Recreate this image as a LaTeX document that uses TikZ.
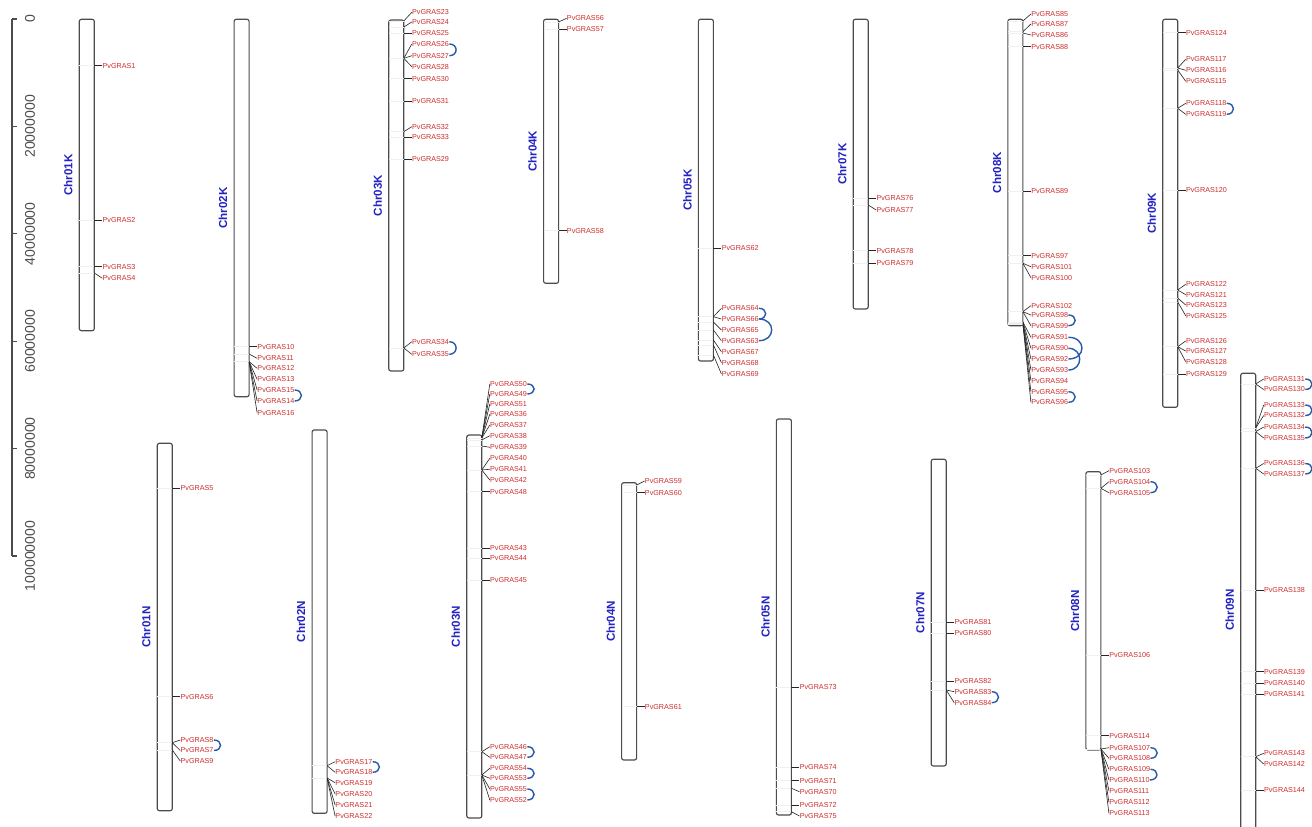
\documentclass[tikz,border=0pt]{standalone}
\usepackage{fontspec}
\setmainfont{Liberation Sans}
\definecolor{gred}{RGB}{205,45,45}
\definecolor{cblue}{RGB}{35,35,195}
\definecolor{lblue}{RGB}{40,90,170}
\tikzset{
  chr/.style={draw=black!70,line width=0.65pt,fill=white,rounded corners=1.2pt},
  inl/.style={draw=black!6,line width=0.3pt},
  gline/.style={draw=black!85,line width=0.35pt},
  glab/.style={font=\fontsize{4.1}{5}\selectfont,text=gred,anchor=west,inner sep=0pt},
  clab/.style={font=\fontsize{6.6}{8}\selectfont\bfseries,text=cblue,rotate=90,inner sep=0pt},
  lnk/.style={draw=lblue,line width=0.8pt},
  axl/.style={font=\fontsize{8}{9}\selectfont,text=black!70,rotate=90,inner sep=0pt},
  axis/.style={draw=black!70,line width=0.6pt}
}
\newcommand\chrom[4]{%
  \draw[chr] (#1,#2) rectangle (#1+15,#3);
  \node[clab] (c#4) at (#1-11,{(#2+#3)/2}) {Chr#4};
}
\newcommand\gn[4]{%
  \coordinate (g#4) at (#1,#2);
  \draw[inl] (#1-15,#2) -- (g#4);
  \node[glab] (p#4) at (#1+8,#3) {PvGRAS#4};
  \draw[gline] (g#4) -- (p#4.west);
}
\newcommand\lk[3]{\draw[lnk] (p#1.east) .. controls +(#3,0) and +(#3,0) .. (p#2.east);}
\begin{document}
\begin{tikzpicture}[x=0.02cm,y=-0.02cm]
\useasboundingbox (0,0) rectangle (1312,827);
\clip (0,0) rectangle (1312,827);
% axis
\coordinate (a0) at (12,19);
\coordinate (a5) at (12,556);
\draw[axis] (a0) -- (a5);
\foreach \k/\t in {0/0,1/20000000,2/40000000,3/60000000,4/80000000,5/100000000}{
  \draw[axis] (12,19+107.4*\k) -- (17,19+107.4*\k);
  \node[axl] (ax\k) at (30,19+107.4*\k) {\t};
}
% chromosomes row K
\chrom{79.3}{19.3}{330.7}{01K}
\chrom{234.1}{19.3}{396.7}{02K}
\chrom{388.8}{20}{371}{03K}
\chrom{543.6}{19.3}{283.3}{04K}
\chrom{698.4}{19.3}{361}{05K}
\chrom{853.2}{19.3}{309}{07K}
\chrom{1007.9}{19.3}{325.7}{08K}
\chrom{1162.7}{19.3}{407.3}{09K}
% chromosomes row N
\chrom{157.3}{443.3}{810.7}{01N}
\chrom{312.1}{430}{813.3}{02N}
\chrom{466.8}{435}{818}{03N}
\chrom{621.6}{482.7}{760}{04N}
\chrom{776.4}{419}{815}{05N}
\chrom{931.2}{459.3}{766}{07N}
\chrom{1085.9}{471.7}{750}{08N}
\chrom{1240.7}{373.3}{847}{09N}
% Chr01K
\gn{94.3}{65.7}{65.7}{1}
\gn{94.3}{220}{220}{2}
\gn{94.3}{266.7}{266.7}{3}
\gn{94.3}{273}{278.3}{4}
% Chr02K
\gn{249.1}{346.7}{346.7}{10}
\gn{249.1}{354}{358.3}{11}
\gn{249.1}{361.7}{368.3}{12}
\gn{249.1}{361.7}{379.3}{13}
\gn{249.1}{361.7}{390}{15}
\gn{249.1}{361.7}{401}{14}
\gn{249.1}{361.7}{412.7}{16}
\lk{15}{14}{9}
% Chr03K
\gn{403.8}{21}{12.3}{23}
\gn{403.8}{27}{22}{24}
\gn{403.8}{33.3}{33.3}{25}
\gn{403.8}{58.3}{44}{26}
\gn{403.8}{58.3}{55.7}{27}
\gn{403.8}{58.3}{66.7}{28}
\gn{403.8}{78.7}{78.7}{30}
\gn{403.8}{101}{101}{31}
\gn{403.8}{131.7}{126.7}{32}
\gn{403.8}{137.3}{137.3}{33}
\gn{403.8}{159.3}{159.3}{29}
\gn{403.8}{348}{341.7}{34}
\gn{403.8}{348}{354.3}{35}
\lk{26}{27}{9}
\lk{34}{35}{9}
% Chr04K
\gn{558.6}{22}{18.3}{56}
\gn{558.6}{29.3}{29.3}{57}
\gn{558.6}{230.7}{230.7}{58}
% Chr05K
\gn{713.4}{248.3}{248.3}{62}
\gn{713.4}{316.7}{308.3}{64}
\gn{713.4}{316.7}{319}{66}
\gn{713.4}{322}{330}{65}
\gn{713.4}{330}{340.7}{63}
\gn{713.4}{340}{351.7}{67}
\gn{713.4}{345}{362.7}{68}
\gn{713.4}{355}{374}{69}
\lk{64}{66}{9}
\lk{66}{63}{17}
% Chr07K
\gn{868.2}{198.3}{198.3}{76}
\gn{868.2}{205}{210}{77}
\gn{868.2}{250.7}{250.7}{78}
\gn{868.2}{263.3}{263.3}{79}
% Chr08K
\gn{1022.9}{21}{14}{85}
\gn{1022.9}{31.7}{24}{87}
\gn{1022.9}{33}{35}{86}
\gn{1022.9}{46.7}{46.7}{88}
\gn{1022.9}{191}{191}{89}
\gn{1022.9}{255.7}{255.7}{97}
\gn{1022.9}{263.3}{266.7}{101}
\gn{1022.9}{263.3}{277.7}{100}
\gn{1022.9}{311.7}{305.7}{102}
\gn{1022.9}{311.7}{315}{98}
\gn{1022.9}{311.7}{325.7}{99}
\gn{1022.9}{322}{337.3}{91}
\gn{1022.9}{322}{348.3}{90}
\gn{1022.9}{323}{359}{92}
\gn{1022.9}{323}{370}{93}
\gn{1022.9}{324}{380.7}{94}
\gn{1022.9}{324}{391.7}{95}
\gn{1022.9}{324}{402.3}{96}
\lk{98}{99}{9}
\lk{91}{92}{18}
\lk{90}{93}{15}
\lk{95}{96}{9}
% Chr09K
\gn{1177.7}{32.7}{32.7}{124}
\gn{1177.7}{68}{59.3}{117}
\gn{1177.7}{68}{70.3}{116}
\gn{1177.7}{70}{81.3}{115}
\gn{1177.7}{108.3}{103.3}{118}
\gn{1177.7}{108.3}{114.3}{119}
\gn{1177.7}{190}{190}{120}
\gn{1177.7}{290}{284.3}{122}
\gn{1177.7}{290}{294.7}{121}
\gn{1177.7}{298}{305}{123}
\gn{1177.7}{302}{315.7}{125}
\gn{1177.7}{346.7}{341}{126}
\gn{1177.7}{346.7}{351}{127}
\gn{1177.7}{346.7}{361.7}{128}
\gn{1177.7}{374.3}{374.3}{129}
\lk{118}{119}{9}
% Chr01N
\gn{172.3}{488.3}{488.3}{5}
\gn{172.3}{696.7}{696.7}{6}
\gn{172.3}{742.7}{740}{8}
\gn{172.3}{742.7}{750.5}{7}
\gn{172.3}{750}{761}{9}
\lk{8}{7}{9}
% Chr02N
\gn{327.1}{765.7}{761.7}{17}
\gn{327.1}{765.7}{772.3}{18}
\gn{327.1}{778}{782.7}{19}
\gn{327.1}{778}{794}{20}
\gn{327.1}{778}{805}{21}
\gn{327.1}{778}{816}{22}
\lk{17}{18}{9}
% Chr03N
\gn{481.8}{438}{384}{50}
\gn{481.8}{438}{394}{49}
\gn{481.8}{438}{404}{51}
\gn{481.8}{438}{414.3}{36}
\gn{481.8}{438}{425}{37}
\gn{481.8}{440}{435.7}{38}
\gn{481.8}{446}{447.3}{39}
\gn{481.8}{470}{458.3}{40}
\gn{481.8}{470}{469.3}{41}
\gn{481.8}{470}{480}{42}
\gn{481.8}{491.7}{491.7}{48}
\gn{481.8}{548}{548}{43}
\gn{481.8}{558.5}{558.5}{44}
\gn{481.8}{580}{580}{45}
\gn{481.8}{751.7}{746.7}{46}
\gn{481.8}{751.7}{757.3}{47}
\gn{481.8}{775}{768.3}{54}
\gn{481.8}{775}{778.3}{53}
\gn{481.8}{775}{789}{55}
\gn{481.8}{775}{800}{52}
\lk{50}{49}{9}
\lk{46}{47}{9}
\lk{54}{53}{9}
\lk{55}{52}{9}
% Chr04N
\gn{636.6}{485}{481}{59}
\gn{636.6}{492.7}{492.7}{60}
\gn{636.6}{706.7}{706.7}{61}
% Chr05N
\gn{791.4}{687.3}{687.3}{73}
\gn{791.4}{767.3}{767.3}{74}
\gn{791.4}{780.7}{780.7}{71}
\gn{791.4}{788.3}{791.7}{70}
\gn{791.4}{805}{805}{72}
\gn{791.4}{811.7}{816}{75}
% Chr07N
\gn{946.2}{622.3}{622.3}{81}
\gn{946.2}{633.3}{633.3}{80}
\gn{946.2}{681}{681}{82}
\gn{946.2}{690}{691.7}{83}
\gn{946.2}{690}{702.7}{84}
\lk{83}{84}{9}
% Chr08N
\gn{1100.9}{475}{470.7}{103}
\gn{1100.9}{488.3}{481.7}{104}
\gn{1100.9}{488.3}{492.7}{105}
\gn{1100.9}{655}{655}{106}
\gn{1100.9}{735.7}{735.7}{114}
\gn{1100.9}{749}{747.7}{107}
\gn{1100.9}{749}{758.3}{108}
\gn{1100.9}{749}{769.3}{109}
\gn{1100.9}{749}{780}{110}
\gn{1100.9}{749}{791}{111}
\gn{1100.9}{749}{802.3}{112}
\gn{1100.9}{749}{813.3}{113}
\lk{104}{105}{9}
\lk{107}{108}{9}
\lk{109}{110}{9}
% Chr09N
\gn{1255.7}{384}{379}{131}
\gn{1255.7}{384}{389.5}{130}
\gn{1255.7}{428}{405}{133}
\gn{1255.7}{428}{415.5}{132}
\gn{1255.7}{431.7}{427}{134}
\gn{1255.7}{431.7}{438}{135}
\gn{1255.7}{468.3}{463.5}{136}
\gn{1255.7}{468.3}{474}{137}
\gn{1255.7}{590}{590}{138}
\gn{1255.7}{671.7}{671.7}{139}
\gn{1255.7}{683}{683}{140}
\gn{1255.7}{694}{694}{141}
\gn{1255.7}{756.7}{753.3}{143}
\gn{1255.7}{756.7}{764}{142}
\gn{1255.7}{790}{790}{144}
\lk{131}{130}{9}
\lk{133}{132}{9}
\lk{134}{135}{9}
\lk{136}{137}{9}
\end{tikzpicture}
\end{document}
